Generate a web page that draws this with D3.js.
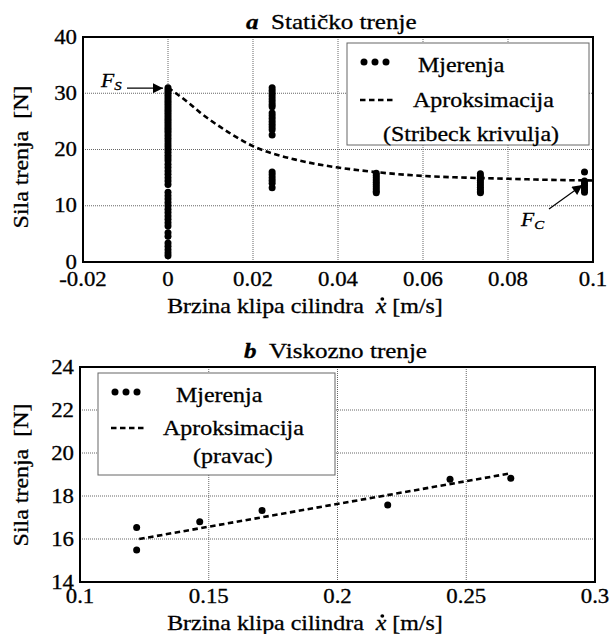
<!DOCTYPE html>
<html>
<head>
<meta charset="utf-8">
<script src="https://cdn.jsdelivr.net/npm/d3@7"></script>
<style>
  body { margin: 0; background: #fff; }
  svg text { stroke: #000; stroke-width: 0.3px; }
</style>
</head>
<body>
<div id="chart"></div>
<script>
// ---- data: static friction (panel a) ----
const staticXTicks = [-0.02, 0, 0.02, 0.04, 0.06, 0.08, 0.1];
const staticYTicks = [0, 10, 20, 30, 40];
const staticSpeeds = [0, 0.0245, 0.049, 0.0735, 0.098];
const staticForces = [
  [31.0, 30.6, 30.2, 29.8, 29.4, 29.0, 28.6, 28.2, 27.8, 27.4, 27.0, 26.6, 26.2, 25.8, 25.4,
   25.0, 24.6, 24.2, 23.8, 23.4, 23.0, 22.5, 22.0, 21.5, 21.0, 20.5, 20.0, 19.5, 19.0, 18.5,
   18.0, 17.4, 16.8, 16.2, 15.6, 15.0, 14.4, 13.8, 12.4, 11.8, 11.2, 10.6, 10.0, 9.4, 8.8,
   8.2, 7.6, 7.0, 6.4, 5.2, 4.6, 3.4, 2.8, 2.2, 1.6, 1.1],
  [31.0, 30.5, 30.0, 29.5, 29.0, 28.5, 28.0, 27.6, 26.5, 26.0, 25.5, 25.0, 24.5, 24.0, 23.5,
   22.6, 16.0, 15.5, 15.0, 14.5, 14.0, 13.2],
  [15.8, 15.4, 15.0, 14.6, 14.2, 13.8, 13.4, 13.0, 12.6, 12.3],
  [15.7, 15.3, 14.9, 14.5, 14.1, 13.7, 13.3, 12.9, 12.5, 12.3],
  [16.0, 14.4, 14.0, 13.6, 13.2, 12.8, 12.4]
];
const stribeckSpeed = [0, 0.005, 0.0075, 0.01, 0.015, 0.02, 0.025, 0.03, 0.035, 0.04, 0.05, 0.06, 0.07, 0.08, 0.09, 0.1];
const stribeckForce = [31.0, 28.2, 26.6, 25.2, 22.7, 20.6, 19.2, 18.2, 17.4, 16.8, 15.9, 15.3, 15.0, 14.8, 14.6, 14.5];

// ---- data: viscous friction (panel b) ----
const viscXTicks = [0.1, 0.15, 0.2, 0.25, 0.3];
const viscYTicks = [14, 16, 18, 20, 22, 24];
const viscSpeed = [0.122, 0.122, 0.1465, 0.1707, 0.2195, 0.2437, 0.2673];
const viscForce = [16.53, 15.49, 16.8, 17.32, 17.58, 18.78, 18.82];
const lineSpeed = [0.123, 0.267];
const lineForce = [16.0, 19.05];

const width = 610, height = 634;
const stretch = 1.14;   // the figure's serif text is wider than plain Times
const serif = '"Liberation Serif", "DejaVu Serif", serif';

let svg = d3.select('#chart')
            .append('svg')
            .attr('width', width)
            .attr('height', height)
            .attr('font-family', serif)
            .style('font-family', serif);

svg.append('defs')
   .append('marker')
   .attr('id', 'head')
   .attr('viewBox', '0 0 10 10')
   .attr('refX', 10)
   .attr('refY', 5)
   .attr('markerWidth', 13)
   .attr('markerHeight', 10)
   .attr('markerUnits', 'userSpaceOnUse')
   .attr('orient', 'auto')
   .append('path')
   .attr('d', 'M0,0 L10,5 L0,10 Z')
   .style('fill', '#000');

const addText = function(parent, x, y, str, size, anchor) {
  return parent.append('text')
               .attr('transform', `translate(${x},${y}) scale(${stretch},1)`)
               .attr('text-anchor', anchor || 'start')
               .style('font-family', serif)
               .style('font-size', size + 'px')
               .text(str);
};

const drawPanel = function(p) {
  let g = svg.append('g');

  let x = d3.scaleLinear().domain(p.xDomain).range([p.left, p.right]);
  let y = d3.scaleLinear().domain(p.yDomain).range([p.bottom, p.top]);

  // grid
  g.selectAll('line.vgrid')
   .data(p.xTicks.slice(1, -1))
   .enter()
   .append('line')
   .attr('x1', d => x(d)).attr('x2', d => x(d))
   .attr('y1', p.top).attr('y2', p.bottom)
   .style('stroke', '#666').style('stroke-width', 1).style('stroke-dasharray', '1,1');

  g.selectAll('line.hgrid')
   .data(p.yTicks.slice(1, -1))
   .enter()
   .append('line')
   .attr('y1', d => y(d)).attr('y2', d => y(d))
   .attr('x1', p.left).attr('x2', p.right)
   .style('stroke', '#666').style('stroke-width', 1).style('stroke-dasharray', '1,1');

  // tick labels
  p.xTicks.forEach(d => addText(g, x(d), p.xLabelY, String(d), 20, 'middle'));
  p.yTicks.forEach(d => addText(g, p.left - 6, y(d) + 6.5, String(d), 20, 'end'));

  // fitted curve
  let line = d3.line()
               .x(d => x(d[0]))
               .y(d => y(d[1]))
               .curve(d3.curveMonotoneX);

  g.append('path')
   .datum(p.fitX.map((v, i) => [v, p.fitY[i]]))
   .attr('d', line)
   .style('fill', 'none')
   .style('stroke', '#000')
   .style('stroke-width', 2.6)
   .style('stroke-dasharray', '5.5,3.5');

  // measurements
  g.selectAll('circle.pt')
   .data(p.points)
   .enter()
   .append('circle')
   .attr('cx', d => x(d[0]))
   .attr('cy', d => y(d[1]))
   .attr('r', 3.5)
   .style('fill', '#000');

  // frame
  g.append('rect')
   .attr('x', p.left).attr('y', p.top)
   .attr('width', p.right - p.left).attr('height', p.bottom - p.top)
   .style('fill', 'none').style('stroke', '#000').style('stroke-width', 2);

  // title
  let t = g.append('text')
           .attr('transform', `translate(${p.titleX},${p.titleY}) scale(${stretch},1)`)
           .style('font-family', serif)
           .style('font-size', '22px');
  t.append('tspan').style('font-weight', 'bold').style('font-style', 'italic').text(p.letter);
  t.append('tspan').text('\u00a0\u00a0' + p.title);

  // y label
  g.append('text')
   .attr('transform', `translate(${p.yLabelX},${p.yLabelY}) rotate(-90) scale(${stretch},1)`)
   .attr('text-anchor', 'middle')
   .style('font-family', serif)
   .style('font-size', '21px')
   .text('Sila trenja\u00a0\u00a0[N]');

  // x label with x-dot
  let xl = g.append('g')
            .attr('transform', `translate(305,${p.xTitleY}) scale(${stretch},1)`);
  let xt = xl.append('text')
             .attr('text-anchor', 'middle')
             .style('font-family', serif)
             .style('font-size', '21px');
  xt.append('tspan').text('Brzina klipa cilindra\u00a0\u00a0');
  xt.append('tspan').style('font-style', 'italic').text('x');
  xt.append('tspan').text(' [m/s]');
  let ext = xt.node().getExtentOfChar(23);
  xl.append('circle')
    .attr('cx', ext.x + ext.width * 0.62)
    .attr('cy', -14)
    .attr('r', 1.7)
    .style('fill', '#000');

  // legend
  let lg = p.legend;
  g.append('rect')
   .attr('x', lg.x).attr('y', lg.y)
   .attr('width', lg.w).attr('height', lg.h)
   .style('fill', '#fff').style('stroke', '#666').style('stroke-width', 1);

  g.selectAll('circle.leg')
   .data([0, 1, 2])
   .enter()
   .append('circle')
   .attr('cx', d => lg.symX + 4 + d * 11)
   .attr('cy', lg.dotY)
   .attr('r', 3.5)
   .style('fill', '#000');

  g.append('line')
   .attr('x1', lg.symX).attr('x2', lg.symX + 33)
   .attr('y1', lg.dashY).attr('y2', lg.dashY)
   .style('stroke', '#000').style('stroke-width', 2.6).style('stroke-dasharray', '5.5,3.5');

  lg.texts.forEach(d => addText(g, d[0], d[1], d[2], 21, 'start'));

  return {x: x, y: y, g: g};
};

let staticPoints = [];
staticSpeeds.forEach((v, i) => staticForces[i].forEach(f => staticPoints.push([v, f])));

let pa = drawPanel({
  left: 83, right: 593, top: 37, bottom: 262,
  xDomain: [-0.02, 0.1], yDomain: [0, 40],
  xTicks: staticXTicks, yTicks: staticYTicks,
  xLabelY: 286, xTitleY: 313,
  yLabelX: 28, yLabelY: 157,
  titleX: 246, titleY: 29, letter: 'a', title: 'Statičko trenje',
  fitX: stribeckSpeed, fitY: stribeckForce,
  points: staticPoints,
  legend: {x: 347, y: 43, w: 242, h: 102, symX: 360, dotY: 62, dashY: 100,
           texts: [[418, 72, 'Mjerenja'], [413, 107, 'Aproksimacija'], [383, 141, '(Stribeck krivulja)']]}
});

let pb = drawPanel({
  left: 80, right: 595, top: 367, bottom: 582,
  xDomain: [0.1, 0.3], yDomain: [14, 24],
  xTicks: viscXTicks, yTicks: viscYTicks,
  xLabelY: 603, xTitleY: 630,
  yLabelX: 28, yLabelY: 475,
  titleX: 244, titleY: 358, letter: 'b', title: 'Viskozno trenje',
  fitX: lineSpeed, fitY: lineForce,
  points: viscSpeed.map((v, i) => [v, viscForce[i]]),
  legend: {x: 98, y: 373, w: 237, h: 102, symX: 111, dotY: 392, dashY: 428,
           texts: [[176, 402, 'Mjerenja'], [163, 435, 'Aproksimacija'], [193, 463, '(pravac)']]}
});

// annotations F_S and F_C
let ann = svg.append('g');

let fs = ann.append('text')
            .attr('transform', `translate(101,87) scale(${stretch},1)`)
            .style('font-family', serif)
            .style('font-size', '19px')
            .style('font-style', 'italic');
fs.append('tspan').text('F');
fs.append('tspan').attr('dy', 3).style('font-size', '13px').text('S');

ann.append('line')
   .attr('x1', 127).attr('y1', pa.y(30.9))
   .attr('x2', pa.x(0) - 5).attr('y2', pa.y(30.9))
   .attr('marker-end', 'url(#head)')
   .style('stroke', '#000').style('stroke-width', 1.2);

let fc = ann.append('text')
            .attr('transform', `translate(521,226) scale(${stretch},1)`)
            .style('font-family', serif)
            .style('font-size', '19px')
            .style('font-style', 'italic');
fc.append('tspan').text('F');
fc.append('tspan').attr('dy', 3).style('font-size', '13px').text('C');

ann.append('line')
   .attr('x1', 549).attr('y1', 209)
   .attr('x2', pa.x(0.0975)).attr('y2', pa.y(14.4) + 4)
   .attr('marker-end', 'url(#head)')
   .style('stroke', '#000').style('stroke-width', 1.2);
</script>
</body>
</html>
